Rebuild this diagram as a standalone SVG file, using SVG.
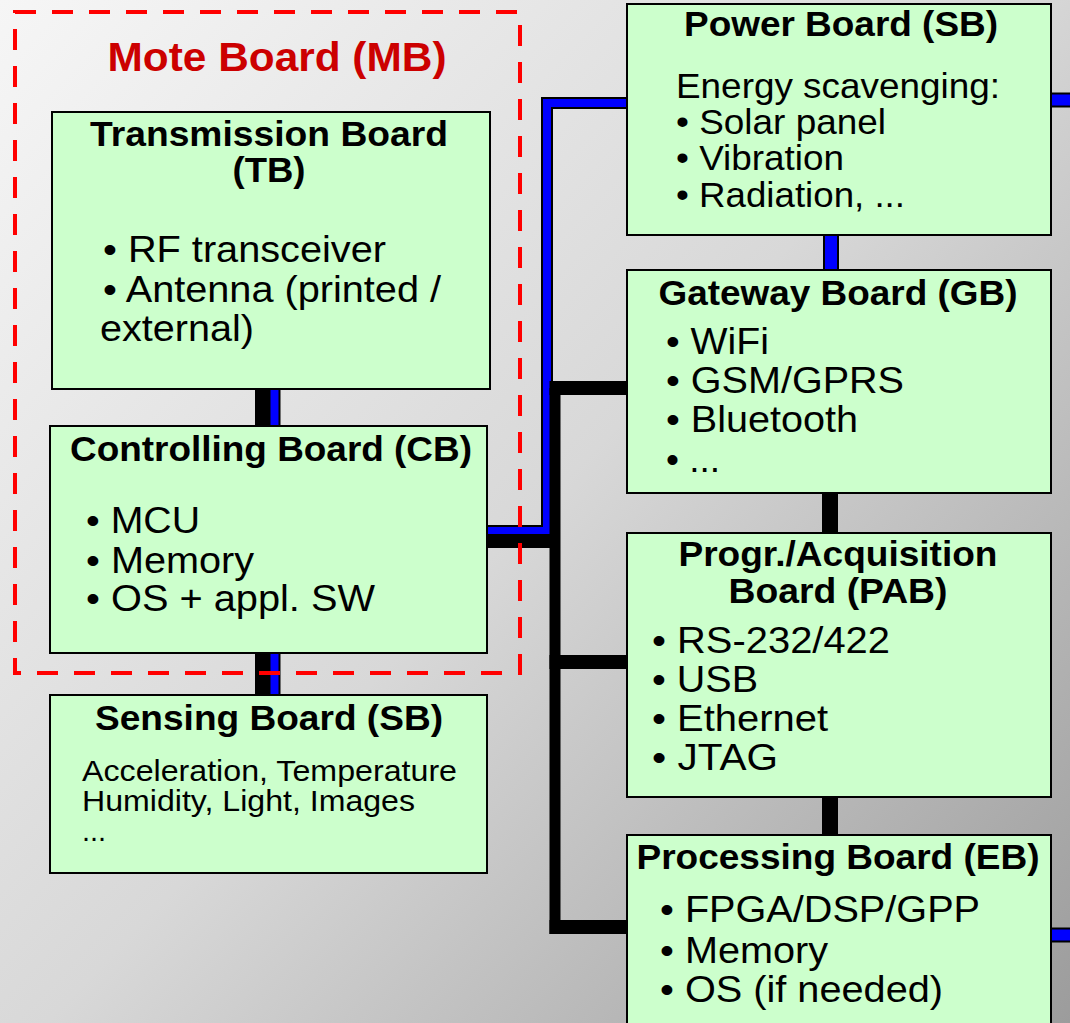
<svg xmlns="http://www.w3.org/2000/svg" width="1070" height="1023" viewBox="0 0 1070 1023">
<defs>
<linearGradient id="bg" gradientUnits="userSpaceOnUse" x1="0" y1="0" x2="1070" y2="1023">
<stop offset="0" stop-color="#f6f6f6"/>
<stop offset="0.5" stop-color="#d8d8d8"/>
<stop offset="1" stop-color="#9c9c9c"/>
</linearGradient>
<style>
.box{fill:#ccffcc;stroke:#000;stroke-width:2}
.t{font-family:"Liberation Sans",Arial,Helvetica,sans-serif;fill:#000}
.ti{font-weight:bold;font-size:35px;text-anchor:middle}
.b{font-size:37px}
.bp{font-size:35px}
.bs{font-size:29px}
.blk{fill:none;stroke:#000;stroke-width:14}
.bo{fill:none;stroke:#000;stroke-width:12}
.bl{fill:none;stroke:#0000ff;stroke-width:8}
</style>
</defs>
<rect x="0" y="0" width="1070" height="1023" fill="url(#bg)"/>

<g id="connectors">
<line class="blk" x1="262" y1="389" x2="262" y2="426"/>
<line class="bo" x1="274.5" y1="389" x2="274.5" y2="426"/>
<line class="bl" x1="274.5" y1="389" x2="274.5" y2="426"/>
<line class="blk" x1="262" y1="653" x2="262" y2="695"/>
<line class="bo" x1="274.5" y1="653" x2="274.5" y2="695"/>
<line class="bl" x1="274.5" y1="653" x2="274.5" y2="695"/>
<path class="bo" d="M487,531 H547 V103 H627"/>
<path class="bl" d="M487,531 H547 V103 H627"/>
<path class="blk" d="M487,541 H555"/>
<path class="blk" d="M555,388 V934" style="stroke-width:11"/>
<path class="blk" d="M549.5,388 H627"/>
<path class="blk" d="M549.5,662 H627"/>
<path class="blk" d="M549.5,927 H627"/>
<line stroke="#000" stroke-width="16" x1="831" y1="235" x2="831" y2="270"/>
<line stroke="#0000ff" stroke-width="12" x1="831" y1="235" x2="831" y2="270"/>
<line stroke="#000" stroke-width="16" x1="830" y1="493" x2="830" y2="533"/>
<line stroke="#000" stroke-width="16" x1="830" y1="797" x2="830" y2="835"/>
<line stroke="#000" stroke-width="15" x1="1051" y1="100" x2="1072" y2="100"/>
<line stroke="#0000ff" stroke-width="11" x1="1051" y1="100" x2="1072" y2="100"/>
<line stroke="#000" stroke-width="15" x1="1051" y1="935" x2="1072" y2="935"/>
<line stroke="#0000ff" stroke-width="11" x1="1051" y1="935" x2="1072" y2="935"/>
</g>

<g id="mote-board">
<rect x="15" y="12" width="505" height="661" fill="none" stroke="#ff0000" stroke-width="4" stroke-dasharray="21 16"/>
<text class="t" x="277" y="71" font-size="41" font-weight="bold" text-anchor="middle" style="fill:#cc0000" textLength="339" lengthAdjust="spacingAndGlyphs">Mote Board (MB)</text>
</g>

<g id="tb">
<rect class="box" x="52" y="112" width="438" height="277"/>
<text class="t ti" x="269" y="146" textLength="358" lengthAdjust="spacingAndGlyphs">Transmission Board</text>
<text class="t ti" x="269" y="182" textLength="73" lengthAdjust="spacingAndGlyphs">(TB)</text>
<text class="t b" x="103" y="262" textLength="283" lengthAdjust="spacingAndGlyphs">• RF transceiver</text>
<text class="t b" x="103" y="302" textLength="338" lengthAdjust="spacingAndGlyphs">• Antenna (printed /</text>
<text class="t b" x="100" y="341" textLength="154" lengthAdjust="spacingAndGlyphs">external)</text>
</g>

<g id="cb">
<rect class="box" x="50" y="426" width="437" height="227"/>
<text class="t ti" x="271" y="461" textLength="402" lengthAdjust="spacingAndGlyphs">Controlling Board (CB)</text>
<text class="t b" x="86" y="533" textLength="114" lengthAdjust="spacingAndGlyphs">• MCU</text>
<text class="t b" x="86" y="573" textLength="168" lengthAdjust="spacingAndGlyphs">• Memory</text>
<text class="t b" x="86" y="611" textLength="289" lengthAdjust="spacingAndGlyphs">• OS + appl. SW</text>
</g>

<g id="sb">
<rect class="box" x="50" y="695" width="437" height="178"/>
<text class="t ti" x="269" y="730" textLength="348" lengthAdjust="spacingAndGlyphs">Sensing Board (SB)</text>
<text class="t bs" x="82" y="781" textLength="375" lengthAdjust="spacingAndGlyphs">Acceleration, Temperature</text>
<text class="t bs" x="82" y="811" textLength="333" lengthAdjust="spacingAndGlyphs">Humidity, Light, Images</text>
<text class="t bs" x="82" y="841">...</text>
</g>

<g id="power">
<rect class="box" x="627" y="4" width="424" height="231"/>
<text class="t ti" x="841" y="36" textLength="314" lengthAdjust="spacingAndGlyphs">Power Board (SB)</text>
<text class="t bp" x="676" y="98" textLength="324" lengthAdjust="spacingAndGlyphs">Energy scavenging:</text>
<text class="t bp" x="676" y="134" textLength="210" lengthAdjust="spacingAndGlyphs">• Solar panel</text>
<text class="t bp" x="676" y="170" textLength="168" lengthAdjust="spacingAndGlyphs">• Vibration</text>
<text class="t bp" x="676" y="207" textLength="229" lengthAdjust="spacingAndGlyphs">• Radiation, ...</text>
</g>

<g id="gateway">
<rect class="box" x="627" y="270" width="424" height="223"/>
<text class="t ti" x="838" y="305" textLength="359" lengthAdjust="spacingAndGlyphs">Gateway Board (GB)</text>
<text class="t b" x="666" y="354" textLength="103" lengthAdjust="spacingAndGlyphs">• WiFi</text>
<text class="t b" x="666" y="393" textLength="238" lengthAdjust="spacingAndGlyphs">• GSM/GPRS</text>
<text class="t b" x="666" y="432" textLength="192" lengthAdjust="spacingAndGlyphs">• Bluetooth</text>
<text class="t b" x="666" y="472">• ...</text>
</g>

<g id="pab">
<rect class="box" x="627" y="533" width="424" height="264"/>
<text class="t ti" x="838" y="566" textLength="319" lengthAdjust="spacingAndGlyphs">Progr./Acquisition</text>
<text class="t ti" x="838" y="603" textLength="219" lengthAdjust="spacingAndGlyphs">Board (PAB)</text>
<text class="t b" x="652" y="653" textLength="238" lengthAdjust="spacingAndGlyphs">• RS-232/422</text>
<text class="t b" x="652" y="692" textLength="106" lengthAdjust="spacingAndGlyphs">• USB</text>
<text class="t b" x="652" y="731" textLength="176" lengthAdjust="spacingAndGlyphs">• Ethernet</text>
<text class="t b" x="652" y="770" textLength="126" lengthAdjust="spacingAndGlyphs">• JTAG</text>
</g>

<g id="processing">
<rect class="box" x="627" y="835" width="424" height="200"/>
<text class="t ti" x="838" y="869" textLength="403" lengthAdjust="spacingAndGlyphs">Processing Board (EB)</text>
<text class="t b" x="660" y="922" textLength="320" lengthAdjust="spacingAndGlyphs">• FPGA/DSP/GPP</text>
<text class="t b" x="660" y="963" textLength="168" lengthAdjust="spacingAndGlyphs">• Memory</text>
<text class="t b" x="660" y="1002" textLength="283" lengthAdjust="spacingAndGlyphs">• OS (if needed)</text>
</g>
</svg>
